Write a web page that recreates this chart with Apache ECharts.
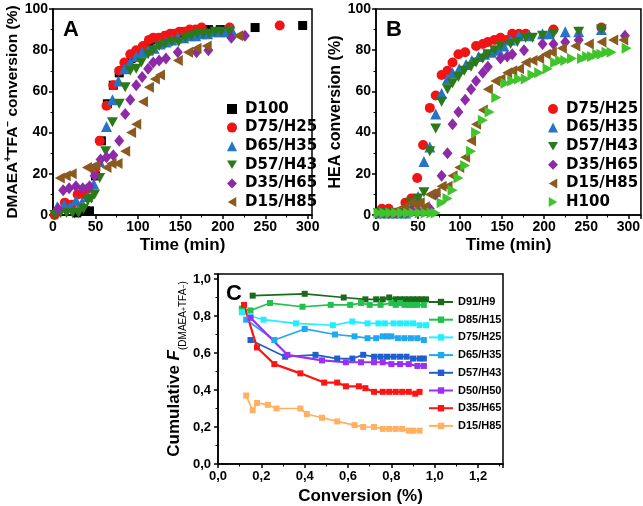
<!DOCTYPE html>
<html>
<head>
<meta charset="utf-8">
<script src="https://cdn.jsdelivr.net/npm/echarts@6/dist/echarts.min.js"></script>
<style>
  html, body { margin: 0; padding: 0; background: #fff; }
  #main { width: 643px; height: 506px; }
</style>
</head>
<body>
<div id="main"></div>
<script>
// panel A : DMAEA+TFA- conversion vs time
var aD100 = [[28,1],[33,2],[38,2],[43,2],[50,19],[57,36],[64,54],[71,63],[78,69],[85,73],[92,76],[99,79],[106,81],[113,83],[120,85],[127,86],[134,87],[141,88],[148,88],[155,89],[162,89],[169,89],[176,90],[183,90],[197,90],[238,91],[294,92]];
var aD75 = [[2,0],[14,6],[22,5],[29,10],[36,10],[42,13],[49,22],[55,36],[63,53],[71,63],[78,70],[84,74],[91,78],[98,80],[106,82],[113,85],[118,86],[125,86],[132,87],[138,88],[144,88],[149,89],[155,89],[161,90],[168,90],[175,91],[208,91],[267,92]];
var aD65 = [[5,4],[13,5],[20,4],[27,7],[34,6],[41,9],[48,15],[55,26],[63,43],[70,56],[77,65],[84,71],[91,74],[98,77],[105,79],[112,80],[119,81],[126,83],[133,84],[140,85],[147,86],[154,86],[161,87],[168,87],[175,88],[182,88],[189,89],[196,89],[203,89],[210,90]];
var aD57 = [[2,0],[9,1],[16,1],[23,1],[30,1],[36,3],[41,7],[45,8],[49,10],[55,18],[62,31],[70,45],[78,54],[85,62],[91,70],[98,71],[104,74],[112,78],[118,80],[125,82],[132,83],[140,84],[148,84],[156,86],[163,87],[170,88],[177,88],[184,88],[191,89],[198,89],[208,89]];
var aD35 = [[6,3],[12,12],[19,13],[27,14],[35,13],[43,14],[49,19],[56,27],[63,28],[71,29],[78,36],[85,49],[91,56],[98,63],[105,67],[112,71],[118,74],[125,75],[133,76],[147,79],[169,79],[183,80],[210,86],[226,87]];
var aD15 = [[8,18],[15,19],[22,20],[40,23],[45,23],[50,24],[63,23],[69,25],[76,25],[85,31],[92,40],[98,44],[106,55],[113,62],[120,66],[126,68],[147,75],[159,79],[169,81],[181,82],[218,87]];

// panel B : HEA conversion vs time
var bD75 = [[7,3],[15,3],[35,6],[42,8],[49,18],[56,34],[64,52],[71,58],[78,68],[85,70],[91,74],[98,78],[106,79],[119,82],[127,83],[133,84],[141,85],[148,86],[156,85],[162,88],[170,88],[178,88],[211,90],[268,91]];
var bD65 = [[5,1],[15,1],[25,1],[35,1],[43,3],[50,9],[57,26],[64,33],[71,49],[78,59],[85,66],[91,69],[99,71],[107,73],[114,75],[122,77],[129,78],[137,79],[146,80],[152,82],[160,85],[170,87],[182,87],[198,88],[206,88],[225,89],[241,89],[268,90]];
var bD57 = [[3,1],[10,1],[17,1],[24,1],[31,1],[37,2],[42,6],[50,8],[57,11],[64,31],[71,42],[78,55],[85,61],[91,64],[98,67],[105,70],[113,72],[119,74],[127,76],[133,78],[141,80],[148,82],[160,83],[168,84],[178,86],[186,86],[198,87],[211,88],[241,89],[268,90]];
var bD35 = [[5,1],[15,1],[25,1],[35,1],[43,2],[50,2],[57,2],[64,3],[71,10],[78,19],[85,30],[91,44],[98,50],[106,56],[113,61],[119,65],[127,69],[133,72],[148,76],[156,77],[162,78],[176,80],[198,83],[211,83],[225,84],[241,85],[296,87]];
var bD15 = [[10,1],[17,1],[24,2],[34,4],[42,6],[47,5],[52,6],[58,4],[64,10],[71,11],[78,14],[85,14],[91,19],[99,23],[106,28],[113,36],[119,44],[127,51],[133,61],[142,65],[148,66],[156,69],[162,70],[170,71],[178,74],[186,75],[194,76],[202,78],[209,79],[221,81],[237,82],[253,83],[268,84],[282,85],[294,85]];
var bH100 = [[3,1],[10,1],[17,1],[24,1],[31,1],[38,1],[45,1],[52,1],[59,1],[66,1],[71,1],[78,6],[85,8],[91,12],[98,18],[106,24],[113,31],[119,40],[127,46],[135,50],[143,57],[154,64],[162,65],[170,66],[178,66],[186,68],[194,69],[204,71],[213,74],[219,75],[225,75],[233,76],[245,76],[251,77],[257,77],[263,78],[268,78],[274,79],[280,79],[298,81]];

// panel C : cumulative F vs conversion
var cD91 = [[0.16,0.91],[0.40,0.92],[0.58,0.90],[0.68,0.89],[0.73,0.89],[0.76,0.89],[0.79,0.90],[0.82,0.89],[0.84,0.89],[0.86,0.89],[0.88,0.89],[0.90,0.89],[0.92,0.89],[0.94,0.89],[0.96,0.89]];
var cD85 = [[0.11,0.84],[0.15,0.83],[0.24,0.87],[0.39,0.85],[0.52,0.86],[0.61,0.86],[0.66,0.87],[0.70,0.86],[0.75,0.86],[0.80,0.87],[0.82,0.86],[0.84,0.87],[0.86,0.86],[0.88,0.86],[0.90,0.86],[0.92,0.86],[0.95,0.86]];
var cD75 = [[0.11,0.82],[0.15,0.80],[0.21,0.78],[0.36,0.76],[0.53,0.75],[0.62,0.77],[0.69,0.76],[0.74,0.76],[0.77,0.76],[0.81,0.76],[0.84,0.76],[0.87,0.76],[0.90,0.76],[0.93,0.75],[0.96,0.75]];
var cD65 = [[0.13,0.78],[0.26,0.67],[0.40,0.73],[0.54,0.70],[0.63,0.69],[0.69,0.68],[0.73,0.68],[0.76,0.69],[0.78,0.69],[0.80,0.69],[0.83,0.68],[0.86,0.68],[0.89,0.68],[0.92,0.68],[0.95,0.67]];
var cD57 = [[0.15,0.67],[0.31,0.58],[0.45,0.59],[0.55,0.57],[0.62,0.57],[0.67,0.59],[0.72,0.58],[0.75,0.58],[0.78,0.58],[0.81,0.58],[0.84,0.58],[0.87,0.58],[0.90,0.57],[0.93,0.57],[0.95,0.57]];
var cD50 = [[0.15,0.79],[0.32,0.59],[0.48,0.56],[0.59,0.55],[0.66,0.55],[0.72,0.55],[0.76,0.55],[0.80,0.54],[0.84,0.54],[0.88,0.54],[0.92,0.53],[0.95,0.53]];
var cD35 = [[0.12,0.86],[0.18,0.63],[0.26,0.54],[0.38,0.49],[0.49,0.44],[0.55,0.44],[0.59,0.42],[0.65,0.42],[0.68,0.41],[0.72,0.39],[0.76,0.39],[0.79,0.39],[0.82,0.39],[0.85,0.39],[0.88,0.39],[0.91,0.38],[0.93,0.39]];
var cD15 = [[0.13,0.37],[0.16,0.29],[0.18,0.33],[0.23,0.32],[0.27,0.30],[0.38,0.30],[0.41,0.27],[0.48,0.25],[0.55,0.23],[0.63,0.21],[0.67,0.20],[0.72,0.20],[0.76,0.19],[0.79,0.19],[0.82,0.19],[0.85,0.19],[0.88,0.18],[0.90,0.18],[0.93,0.18]];

var namesA = ['D100','D75/H25','D65/H35','D57/H43','D35/H65','D15/H85'];
var namesB = ['D75/H25','D65/H35','D57/H43','D35/H65','D15/H85','H100'];
var namesC = ['D91/H9','D85/H15','D75/H25','D65/H35','D57/H43','D50/H50','D35/H65','D15/H85'];

var dataA = [aD100, aD75, aD65, aD57, aD35, aD15];
var dataB = [bD75, bD65, bD57, bD35, bD15, bH100];
var dataC = [cD91, cD85, cD75, cD65, cD57, cD50, cD35, cD15];

var SQ = 'rect', CI = 'circle', UP = 'triangle', DIA = 'diamond';
var DOWN = 'path://M0,0L20,0L10,17Z';
var LEFT = 'path://M0,10L17,0L17,20Z';
var RIGHT = 'path://M0,0L17,10L0,20Z';

var styleA = [
  {sym: SQ, size: 9, color: '#000000'},
  {sym: CI, size: 10, color: '#f01414'},
  {sym: UP, size: 11, color: '#2475c6'},
  {sym: DOWN, size: [11, 10], color: '#2a7a1a'},
  {sym: DIA, size: [10, 12], color: '#8c2aa8'},
  {sym: LEFT, size: [10, 11], color: '#8b5a1e'}
];
var styleB = [styleA[1], styleA[2], styleA[3], styleA[4], styleA[5],
  {sym: RIGHT, size: [10, 11], color: '#3fc42c'}];
var colorsC = ['#1b6a1b', '#22c04c', '#22eeff', '#22a8f0', '#1f5fcc', '#9a30f5', '#ff1414', '#ffb060'];

var chart = echarts.init(document.getElementById('main'));

var tickFont = {fontFamily: 'Liberation Sans', fontWeight: 'bold', fontSize: 14, color: '#000'};
var nameFont = {fontFamily: 'Liberation Sans', fontWeight: 'bold', fontSize: 17, color: '#000'};
var commaFmt = function (v) { return v.toFixed(1).replace('.', ','); };

function valAxis(gi, min, max, interval, extra) {
  var ax = {
    gridIndex: gi, type: 'value', min: min, max: max, interval: interval,
    axisLine: {show: true, onZero: false, lineStyle: {color: '#000', width: 1.5}},
    axisTick: {show: true, inside: false, length: 4, lineStyle: {color: '#000', width: 1.5}},
    minorTick: {show: true, splitNumber: 2, length: 2.5, lineStyle: {color: '#000', width: 1}},
    splitLine: {show: false},
    axisLabel: Object.assign({showMaxLabel: false, margin: 5}, tickFont),
    nameLocation: 'middle'
  };
  return Object.assign(ax, extra);
}

var series = [];
dataA.forEach(function (d, i) {
  series.push({
    name: 'A:' + namesA[i], type: 'scatter', xAxisIndex: 0, yAxisIndex: 0,
    data: d, symbol: styleA[i].sym, symbolSize: styleA[i].size,
    itemStyle: {color: styleA[i].color, opacity: 1}
  });
});
dataB.forEach(function (d, i) {
  series.push({
    name: 'B:' + namesB[i], type: 'scatter', xAxisIndex: 1, yAxisIndex: 1,
    data: d, symbol: styleB[i].sym, symbolSize: styleB[i].size,
    itemStyle: {color: styleB[i].color, opacity: 1}
  });
});
dataC.forEach(function (d, i) {
  series.push({
    name: 'C:' + namesC[i], type: 'line', xAxisIndex: 2, yAxisIndex: 2,
    data: d, symbol: 'rect', symbolSize: 6, showSymbol: true,
    lineStyle: {color: colorsC[i], width: (i == 5 || i == 6) ? 2.2 : 1.7},
    itemStyle: {color: colorsC[i]}
  });
});

function strip(n) { return n.slice(2); }

var supStyle = {fontFamily: 'Liberation Sans', fontWeight: 'bold', fontSize: 10, color: '#000', verticalAlign: 'top', lineHeight: 18};
var mainStyle = {fontFamily: 'Liberation Sans', fontWeight: 'bold', fontSize: 15.5, color: '#000', lineHeight: 18};
var legendText = {fontFamily: 'DejaVu Sans', fontWeight: 'bold', fontSize: 15, color: '#000', padding: [0, 0, 0, 3]};

chart.setOption({
  animation: false,
  backgroundColor: '#fff',
  grid: [
    {left: 53, top: 9, width: 259, height: 206, show: true, borderColor: '#000', borderWidth: 1.5},
    {left: 376, top: 9, width: 267, height: 206, show: true, borderColor: '#000', borderWidth: 1.5},
    {left: 218, top: 274, width: 285, height: 192, show: true, borderColor: '#000', borderWidth: 1.5}
  ],
  xAxis: [
    valAxis(0, 0, 305, 50, {name: 'Time (min)', nameGap: 22, nameTextStyle: nameFont}),
    valAxis(1, 0, 315, 50, {name: 'Time (min)', nameGap: 22, nameTextStyle: nameFont}),
    valAxis(2, 0, 1.315, 0.2, {
      name: 'Conversion (%)', nameGap: 24, nameTextStyle: nameFont,
      axisLabel: Object.assign({showMaxLabel: false, margin: 6, formatter: commaFmt}, tickFont, {fontSize: 13})
    })
  ],
  yAxis: [
    valAxis(0, 0, 100, 20, {
      name: '{a|DMAEA}{s|+}{a|TFA}{s|−}{a| conversion (%)}', nameGap: 28,
      nameTextStyle: {rich: {a: mainStyle, s: supStyle}},
      axisLabel: Object.assign({showMaxLabel: true, margin: 5}, tickFont)
    }),
    valAxis(1, 0, 100, 20, {
      name: 'HEA conversion (%)', nameGap: 23,
      nameTextStyle: Object.assign({}, nameFont, {fontSize: 16}),
      axisLabel: Object.assign({showMaxLabel: true, margin: 5}, tickFont)
    }),
    valAxis(2, 0, 1.027, 0.2, {
      name: '{a|Cumulative }{i|F}{b|(DMAEA}{c|+}{b|TFA}{c|−}{b|)}', nameGap: 30,
      nameTextStyle: {rich: {
        a: {fontFamily: 'Liberation Sans', fontWeight: 'bold', fontSize: 17, color: '#000', lineHeight: 22},
        i: {fontFamily: 'Liberation Sans', fontWeight: 'bold', fontStyle: 'italic', fontSize: 17, color: '#000', lineHeight: 22},
        b: {fontFamily: 'Liberation Sans', fontSize: 10, color: '#000', verticalAlign: 'bottom', lineHeight: 22},
        c: {fontFamily: 'Liberation Sans', fontSize: 7, color: '#000', verticalAlign: 'bottom', lineHeight: 28}
      }},
      axisLabel: Object.assign({showMaxLabel: false, margin: 7, formatter: commaFmt}, tickFont, {fontSize: 13})
    })
  ],
  legend: [
    {
      data: namesA.map(function (n) { return 'A:' + n; }), formatter: strip,
      orient: 'vertical', left: 227, top: 101.5, padding: 0,
      itemWidth: 10, itemHeight: 10, itemGap: 3.6, selectedMode: false,
      textStyle: legendText
    },
    {
      data: namesB.map(function (n) { return 'B:' + n; }), formatter: strip,
      orient: 'vertical', left: 548, top: 101.5, padding: 0,
      itemWidth: 10, itemHeight: 10, itemGap: 3.6, selectedMode: false,
      textStyle: legendText
    },
    {
      data: namesC.map(function (n) { return 'C:' + n; }), formatter: strip,
      orient: 'vertical', left: 428, top: 296.5, padding: 0,
      itemWidth: 24, itemHeight: 8, itemGap: 6.7, selectedMode: false,
      textStyle: {fontFamily: 'Liberation Sans', fontWeight: 'bold', fontSize: 11, lineHeight: 11, color: '#000'}
    }
  ],
  graphic: [
    {type: 'text', left: 63, top: 19, style: {text: 'A', font: 'bold 22px "Liberation Sans"', fill: '#000'}},
    {type: 'text', left: 386, top: 19, style: {text: 'B', font: 'bold 22px "Liberation Sans"', fill: '#000'}},
    {type: 'text', left: 226, top: 283, style: {text: 'C', font: 'bold 22px "Liberation Sans"', fill: '#000'}}
  ],
  series: series
});
</script>
</body>
</html>
